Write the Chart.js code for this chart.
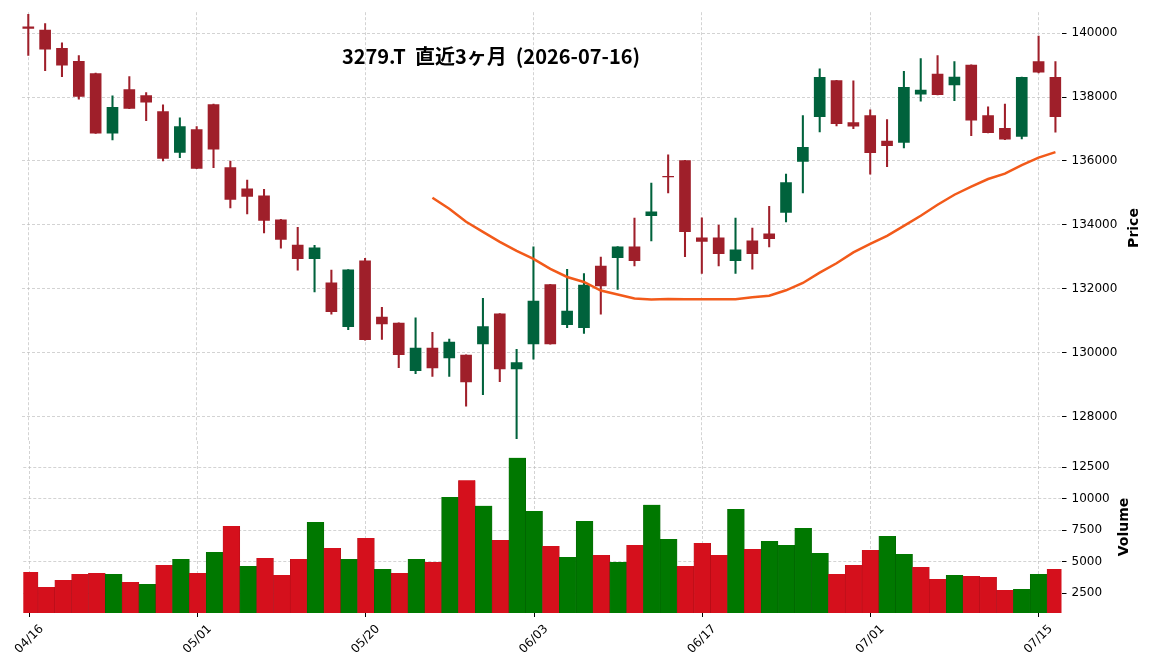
<!DOCTYPE html>
<html><head><meta charset="utf-8">
<script src="https://cdn.jsdelivr.net/npm/chart.js@4.4.0/dist/chart.umd.min.js"></script>
<style>
html,body{margin:0;padding:0;background:#fff;}
#wrap{position:relative;width:1152px;height:670px;overflow:hidden;background:#fff;}
#c1{position:absolute;left:0;top:0;}
#c2{position:absolute;left:0;top:411px;}
.lbl{position:absolute;font-family:'DejaVu Sans';font-weight:bold;font-size:14px;color:#000;white-space:nowrap;transform:translate(-50%,-50%) rotate(-90deg);}
#title{position:absolute;left:491px;top:55px;transform:translate(-50%,-50%);font-family:'Noto Sans CJK JP';font-weight:bold;font-size:20px;white-space:pre;color:#000;}
</style></head>
<body>
<div id="wrap">
<canvas id="c1" width="1152" height="471"></canvas>
<canvas id="c2" width="1152" height="259"></canvas>
<div id="title">3279.T  直近3ヶ月  (2026-07-16)</div>
<div class="lbl" style="left:1133px;top:228px;">Price</div>
<div class="lbl" style="left:1123px;top:527px;">Volume</div>
</div>
<script>
const dates = ["04/16","04/17","04/20","04/21","04/22","04/23","04/24","04/27","04/28","04/30",
"05/01","05/07","05/08","05/11","05/12","05/13","05/14","05/15","05/18","05/19",
"05/20","05/21","05/22","05/25","05/26","05/27","05/28","05/29","06/01","06/02",
"06/03","06/04","06/05","06/08","06/09","06/10","06/11","06/12","06/15","06/16",
"06/17","06/18","06/19","06/22","06/23","06/24","06/25","06/26","06/29","06/30",
"07/01","07/02","07/03","07/06","07/07","07/08","07/09","07/10","07/13","07/14",
"07/15","07/16"];
const open = [140200,140100,139530,139120,138740,136870,138240,138050,137550,136270,
136980,137770,135790,135130,134910,134160,133370,132940,132180,130810,
132870,131110,130920,129430,130140,129830,129920,130270,131210,129490,
130270,132130,130870,130780,132710,132970,133310,134290,135520,136010,
133590,133590,132880,133500,133720,134390,135990,137390,138520,137200,
137420,136620,136580,138090,138720,138380,139000,137420,137020,136770,
139110,138620];
const high = [140590,140300,139700,139300,138750,138040,138640,138140,137760,137350,
137080,137780,136000,135400,135110,134170,133920,133360,132580,132600,
132950,131420,130930,131090,130630,130420,129930,131700,131220,130100,
133310,132140,132610,132470,132990,133320,134210,135310,136190,136020,
134220,133990,134210,133900,134580,135590,137420,138890,138530,138510,
137600,137300,138810,139210,139300,139110,139010,137700,137780,138630,
139910,139110];
const low = [139310,138830,138640,137940,136860,136660,137640,137260,136000,136100,
135760,135790,134530,134340,133750,133270,132580,131900,131200,130720,
130390,130410,129530,129340,129250,129250,128320,128680,129090,127300,
129790,130260,130780,130600,131200,131980,132710,133500,135000,133000,
132480,132710,132480,132610,133310,134090,135000,136910,137100,137010,
135590,135820,136410,137870,138070,137890,136790,136880,136670,136690,
138760,136900];
const close = [140150,139500,139000,138020,136870,137680,137650,137840,136080,137080,
135770,136370,134800,134890,134140,133540,132940,133280,131280,132590,
130400,130900,129930,130140,129520,130330,129080,130810,129490,129690,
131610,130270,131300,132110,132090,133310,132880,134410,135500,133790,
133480,133100,133220,133100,133570,135320,136430,138620,137170,137090,
136260,136480,138310,138220,138080,138630,137280,136890,136680,138620,
138780,137390];
const volume = [4190,3000,3560,4030,4110,4030,3400,3240,4750,5220,
4110,5780,7840,4670,5300,3950,5220,8160,6100,5220,
6890,4430,4110,5220,4980,10140,11480,9440,6730,13250,
9040,6250,5380,8240,5540,4980,6330,9520,6810,4670,
6490,5540,9200,6020,6650,6330,7680,5700,4030,4750,
5940,7050,5620,4590,3640,3950,3870,3790,2760,2840,
4030,4430];
const ma25 = [null,null,null,null,null,null,null,null,null,null,
null,null,null,null,null,null,null,null,null,null,
null,null,null,null,134848,134503,134095,133781,133467,133184,
132933,132619,132367,132210,131943,131818,131692,131660,131676,131667,
131667,131667,131667,131730,131780,131950,132179,132503,132798,133137,
133404,133655,133969,134285,134629,134943,135194,135436,135603,135870,
136105,136278];
const xTickIdx = [0,10,20,30,40,50,60];
const priceTicks = [128000,130000,132000,134000,136000,138000,140000];
const volTicks = [2500,5000,7500,10000,12500];

const X_MIN = -0.374, X_MAX = 61.36;
const upBody = '#00623c', downBody = '#9f1f2a';
const upVol = '#007800', downVol = '#d5101c';
const upVolEdge = '#006200', downVolEdge = '#b00e18';
const gridColor = 'rgba(185,185,185,0.8)';
const candleCol = close.map((c,i)=> c >= open[i] ? upBody : downBody);
const volUp = close.map((c,i)=> (i===0 ? c >= open[i] : c >= close[i-1]));
const volCol = volUp.map(u => u ? upVol : downVol);
const volEdge = volUp.map(u => u ? upVolEdge : downVolEdge);

function xScale(showLabels){
  return {
    type:'linear', min:X_MIN, max:X_MAX, offset:false,
    afterBuildTicks:(s)=>{ s.ticks = xTickIdx.map(v=>({value:v})); },
    ticks: showLabels ? {display:true, autoSkip:false, maxRotation:45, minRotation:45,
      font:{family:'DejaVu Sans', size:12}, color:'#000', labelOffset:12, padding:5,
      callback:(v)=>dates[v]} : {display:false},
    grid:{color:gridColor, lineWidth:0.8, offset:false, drawTicks:showLabels, tickLength:4, tickColor:'#000', tickWidth:1, tickBorderDash:[]},
    border:{display:false, dash:[3,2]},
    afterFit:(s)=>{ s.height = showLabels ? 57 : 0; }
  };
}
function yScale(min,max,ticks){
  return {
    type:'linear', position:'right', min:min, max:max,
    afterBuildTicks:(s)=>{ s.ticks = ticks.map(v=>({value:v})); },
    ticks:{callback:(v)=>String(v), font:{family:'DejaVu Sans', size:12}, color:'#000', padding:5},
    grid:{color:gridColor, lineWidth:0.8, drawTicks:true, tickLength:5, tickColor:'#000', tickWidth:1, tickBorderDash:[]},
    border:{display:false, dash:[3,2]},
    afterFit:(s)=>{ s.width = 90.5; }
  };
}
const common = {responsive:false, animation:false, devicePixelRatio:1,
  plugins:{legend:{display:false}, tooltip:{enabled:false}, title:{display:false}}};

new Chart(document.getElementById('c1'), {
  type:'bar',
  data:{datasets:[
    {type:'line', data: ma25.map((v,i)=>({x:i,y:v})), borderColor:'#f25a1a', borderWidth:2.5,
      pointRadius:0, tension:0, spanGaps:false, order:0},
    {type:'bar', data: open.map((o,i)=>({x:i,y:[o,close[i]]})), backgroundColor:candleCol,
      barThickness:11, grouped:false, order:1},
    {type:'bar', data: low.map((l,i)=>({x:i,y:[l,high[i]]})), backgroundColor:candleCol,
      barThickness:1.4, grouped:false, order:2}
  ]},
  options:Object.assign({}, common, {
    layout:{padding:{left:22, top:11, right:0, bottom:30}},
    scales:{x:xScale(false), y:yScale(127230,140660,priceTicks)}
  })
});

new Chart(document.getElementById('c2'), {
  type:'bar',
  data:{datasets:[
    {data: volume.map((v,i)=>({x:i,y:v})), backgroundColor:volCol, borderColor:volEdge,
      borderWidth:{left:0.6,right:0.6,top:0,bottom:0}, barPercentage:1, categoryPercentage:1, grouped:false}
  ]},
  options:Object.assign({}, common, {
    layout:{padding:{left:22, top:30, right:0, bottom:0}},
    scales:{x:xScale(true), y:yScale(937,14587,volTicks)}
  })
});
</script>
</body></html>
